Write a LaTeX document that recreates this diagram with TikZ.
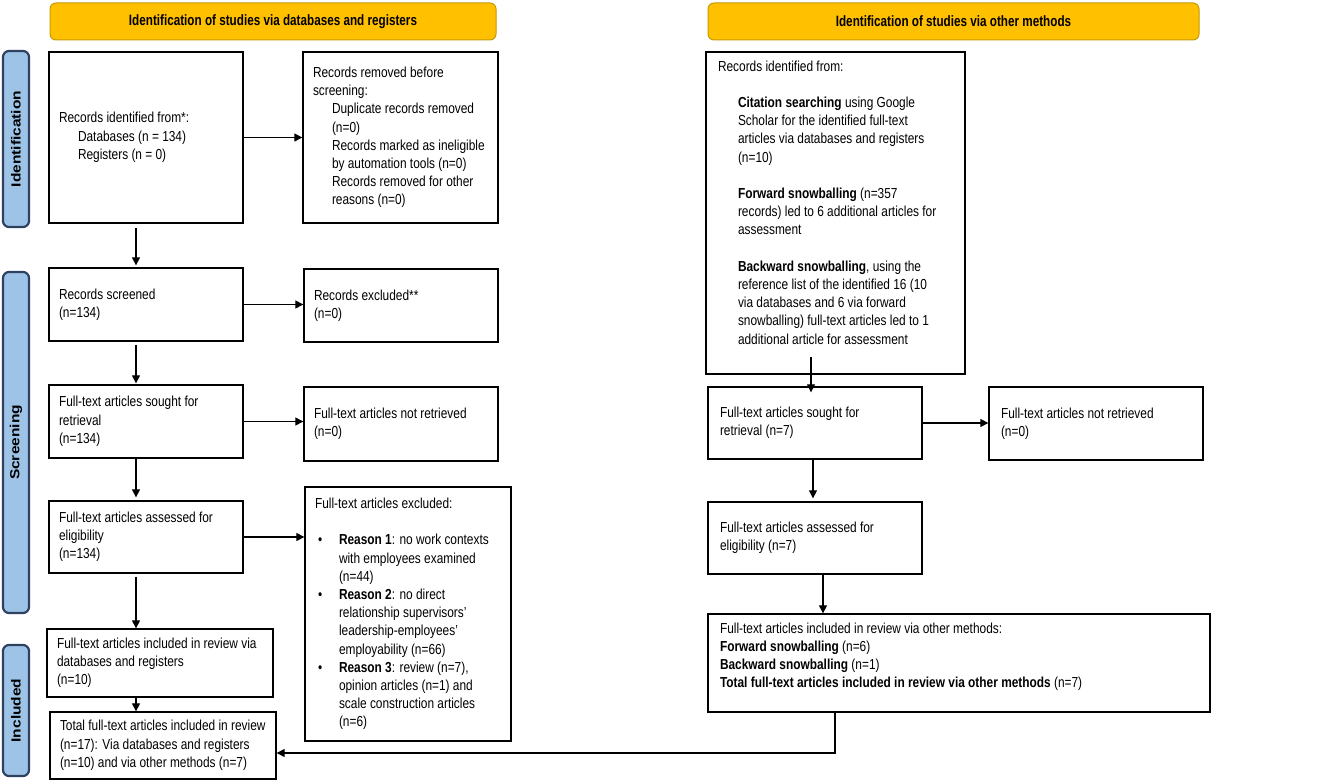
\documentclass[tikz,border=0pt]{standalone}
\usepackage{fontspec}
\usepackage{graphicx}
\setmainfont{Liberation Sans}[FakeStretch=0.82]
\newfontfamily\sidefont{Liberation Sans}
\newfontfamily\headfont{Liberation Sans}[FakeStretch=0.78]
\usetikzlibrary{arrows.meta}
\definecolor{gold}{HTML}{FFC000}
\definecolor{goldline}{HTML}{C49A00}
\definecolor{sidefill}{HTML}{9DC3E6}
\definecolor{sideline}{HTML}{2F4063}
\newcommand\ind{\hspace*{19pt}}
\newcommand\rind{\hspace*{20pt}}
\newcommand\bul{\makebox[24pt][l]{\hspace*{3pt}\textbullet}}
\newcommand\bind{\hspace*{24pt}}
\newcommand\tb[2]{\makebox[#1][l]{\begin{tabular}{@{}l@{}}#2\end{tabular}}}
\newcommand\sidetext[1]{\sidefont\bfseries\fontsize{15.5}{18}\selectfont\scalebox{1}[0.85]{#1}}
\begin{document}
\begin{tikzpicture}[x=1pt,y=-1pt,
  every node/.style={font=\fontsize{14.5}{18.2}\selectfont},
  pbox/.style={draw=black, line width=1.3pt, inner xsep=10pt, inner ysep=0pt},
  rbox/.style={pbox, inner xsep=12pt},
  head/.style={draw=goldline, fill=gold, rounded corners=6pt, line width=1pt,
    font=\headfont\bfseries\fontsize{15}{18}\selectfont},
  side/.style={draw=sideline, fill=sidefill, rounded corners=6pt, line width=2.2pt,
    minimum height=26pt, inner sep=0pt},
  arr/.style={-{Triangle[length=8pt,width=8pt]}, line width=1.1pt},
]
\useasboundingbox (0,0) rectangle (1325,783);

% headers
\node[head, minimum width=446pt, minimum height=37pt] (h1) at (273,21.5)
  {Identification of studies via databases and registers};
\node[head, minimum width=491pt, minimum height=37pt] (h2) at (953.5,21.5)
  {Identification of studies via other methods};

% side labels
\node[side, rotate=90, minimum width=176pt] (s1) at (16,139) {\sidetext{Identification}};
\node[side, rotate=90, minimum width=341pt] (s2) at (16,442.5) {\sidetext{Screening}};
\node[side, rotate=90, minimum width=131pt] (s3) at (16,710.5) {\sidetext{Included}};

% left column
\node[pbox, minimum height=171pt] (b1) at (146,137.5)
  {\tb{174pt}{Records identified from*:\\ \ind Databases (n = 134)\\ \ind Registers (n = 0)}};
\node[pbox, minimum height=171pt] (b2) at (400.5,137.5)
  {\tb{175pt}{Records removed before\\ screening:\\ \ind Duplicate records removed\\ \ind (n=0)\\ \ind Records marked as ineligible\\ \ind by automation tools (n=0)\\ \ind Records removed for other\\ \ind reasons (n=0)}};
\node[pbox, minimum height=73pt] (b3) at (146,304.5)
  {\tb{174pt}{Records screened\\(n=134)}};
\node[pbox, minimum height=73pt] (b4) at (401,305.5)
  {\tb{174pt}{Records excluded**\\(n=0)}};
\node[pbox, minimum height=73pt] (b5) at (146,421.5)
  {\tb{174pt}{Full-text articles sought for\\retrieval\\(n=134)}};
\node[pbox, minimum height=74pt] (b6) at (401,424)
  {\tb{174pt}{Full-text articles not retrieved\\(n=0)}};
\node[pbox, minimum height=72pt] (b7) at (146,537)
  {\tb{174pt}{Full-text articles assessed for\\eligibility\\(n=134)}};
\node[pbox, minimum height=254pt] (b8) at (408,614)
  {\tb{186pt}{Full-text articles excluded:\\ \\
   \bul\textbf{Reason 1}: no work contexts\\ \bind with employees examined\\ \bind (n=44)\\
   \bul\textbf{Reason 2}: no direct\\ \bind relationship supervisors’\\ \bind leadership-employees’\\ \bind employability (n=66)\\
   \bul\textbf{Reason 3}: review (n=7),\\ \bind opinion articles (n=1) and\\ \bind scale construction articles\\ \bind (n=6)}};
\node[pbox, minimum height=68pt] (b9) at (160,663)
  {\tb{206pt}{Full-text articles included in review via\\databases and registers\\(n=10)}};
\node[pbox, minimum height=67pt] (b10) at (163,745.5)
  {\tb{206pt}{Total full-text articles included in review\\(n=17): Via databases and registers\\(n=10) and via other methods (n=7)}};

% right column
\node[rbox, minimum height=322pt] (r1) at (835.5,213)
  {\tb{235pt}{Records identified from:\\ \\
   \rind\textbf{Citation searching} using Google\\ \rind Scholar for the identified full-text\\ \rind articles via databases and registers\\ \rind (n=10)\\ \\
   \rind\textbf{Forward snowballing} (n=357\\ \rind records) led to 6 additional articles for\\ \rind assessment\\ \\
   \rind\textbf{Backward snowballing}, using the\\ \rind reference list of the identified 16 (10\\ \rind via databases and 6 via forward\\ \rind snowballing) full-text articles led to 1\\ \rind additional article for assessment\\[18pt]}};
\node[rbox, minimum height=72pt] (r2) at (815,423)
  {\tb{190pt}{Full-text articles sought for\\retrieval (n=7)}};
\node[rbox, minimum height=73pt] (r3) at (1096,423.5)
  {\tb{190pt}{Full-text articles not retrieved\\(n=0)}};
\node[rbox, minimum height=72pt] (r4) at (815,538)
  {\tb{190pt}{Full-text articles assessed for\\eligibility (n=7)}};
\node[rbox, minimum height=98pt] (r5) at (959,663)
  {\tb{478pt}{Full-text articles included in review via other methods:\\
   \textbf{Forward snowballing} (n=6)\\
   \textbf{Backward snowballing} (n=1)\\
   \textbf{Total full-text articles included in review via other methods} (n=7)\\[12pt]}};

% connectors, left
\coordinate (lx) at (136,0);
\draw[arr] (b1.east) -- (b1.east -| b2.west);
\draw[arr] (b3.east) -- (b3.east -| b4.west);
\draw[arr] (b5.east) -- (b5.east -| b6.west);
\draw[arr] (b7.east) -- (b7.east -| b8.west);
\draw[arr, shorten <=4pt, shorten >=2pt] (b1.south -| lx) -- (b3.north -| lx);
\draw[arr, shorten <=3pt, shorten >=1pt] (b3.south -| lx) -- (b5.north -| lx);
\draw[arr, shorten >=3pt] (b5.south -| lx) -- (b7.north -| lx);
\draw[arr, shorten <=3pt] (b7.south -| lx) -- (b9.north -| lx);
\draw[arr] (b9.south -| lx) -- (b10.north -| lx);

% connectors, right
\coordinate (rx1) at (811,357);
\coordinate (rx2) at (813,0);
\coordinate (rx3) at (823,0);
\coordinate (k) at (835,753);
\draw[arr, shorten >=-6pt] (rx1) -- (rx1 |- r2.north);
\draw[arr] (r2.east) -- (r2.east -| r3.west);
\draw[arr, shorten >=3pt] (r2.south -| rx2) -- (r4.north -| rx2);
\draw[arr] (r4.south -| rx3) -- (r5.north -| rx3);
\draw[arr] (r5.south -| k) -- (k) -- (k -| b10.east);
\end{tikzpicture}
\end{document}
